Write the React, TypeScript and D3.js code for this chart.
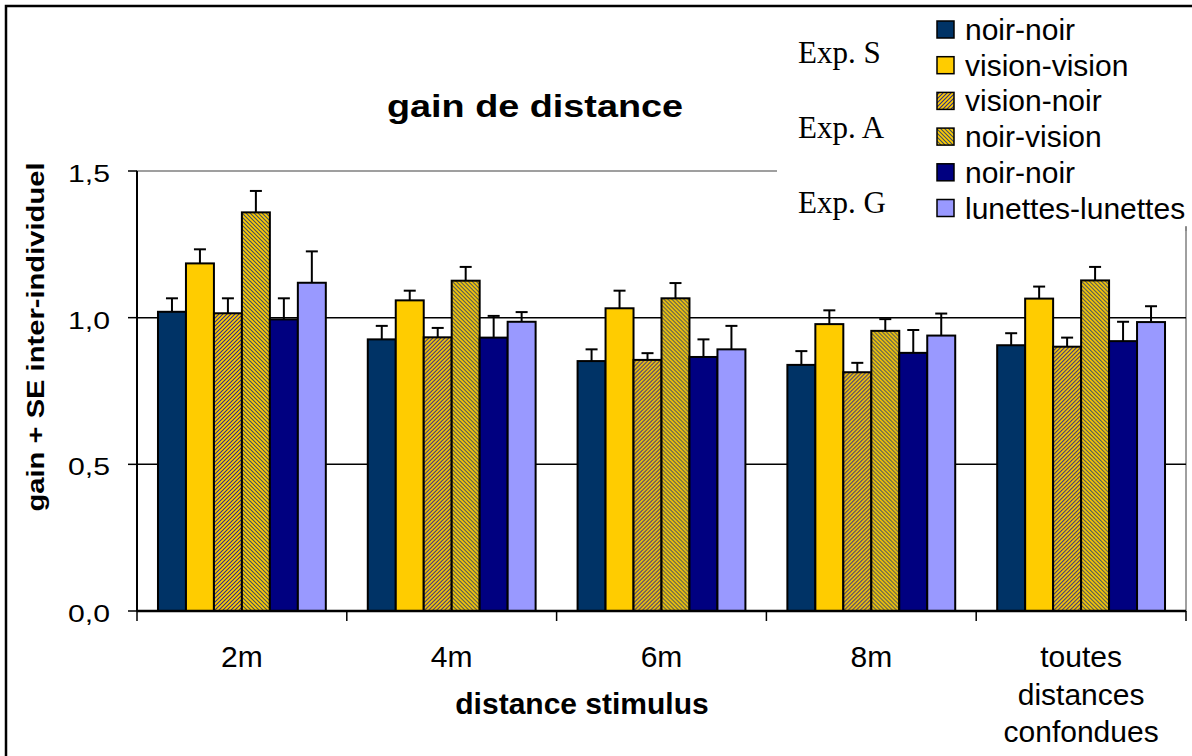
import React from "react";
import * as d3 from "d3";

// distances
const categories = ["2m", "4m", "6m", "8m", "toutes distances confondues"];

// series (legend order)
const seriesNames = [
  "noir-noir",
  "vision-vision",
  "vision-noir",
  "noir-vision",
  "noir-noir ",
  "lunettes-lunettes"
];
const seriesFills = [
  "#003366",
  "#FFCC00",
  "url(#hatchVN)",
  "url(#hatchNV)",
  "#000080",
  "#9999FF"
];

// mean gains
const noirNoirS = [1.02, 0.926, 0.852, 0.839, 0.906];
const visionVision = [1.185, 1.059, 1.032, 0.978, 1.065];
const visionNoir = [1.015, 0.933, 0.856, 0.814, 0.901];
const noirVision = [1.359, 1.126, 1.066, 0.955, 1.127];
const noirNoirG = [0.994, 0.932, 0.866, 0.88, 0.92];
const lunettes = [1.119, 0.986, 0.892, 0.939, 0.985];

// SE inter-individuel
const noirNoirSse = [0.046, 0.046, 0.04, 0.047, 0.041];
const visionVisionSe = [0.048, 0.033, 0.06, 0.047, 0.041];
const visionNoirSe = [0.051, 0.032, 0.023, 0.032, 0.031];
const noirVisionSe = [0.073, 0.047, 0.052, 0.04, 0.046];
const noirNoirGse = [0.072, 0.074, 0.06, 0.078, 0.066];
const lunettesSe = [0.107, 0.033, 0.08, 0.075, 0.054];

const yTicks = [0, 0.5, 1.0, 1.5];
const yTickLabels = ["0,0", "0,5", "1,0", "1,5"];
const expLabels = ["Exp. S", "Exp. A", "Exp. G"];

const means = [noirNoirS, visionVision, visionNoir, noirVision, noirNoirG, lunettes];
const errs = [noirNoirSse, visionVisionSe, visionNoirSe, noirVisionSe, noirNoirGse, lunettesSe];

const W = 1192,
  H = 756;
const left = 137,
  right = 1186,
  top = 171,
  bottom = 611;

const arial = "Arial, 'Liberation Sans', sans-serif";

export default function App() {
  const x0 = d3.scaleBand().domain(categories).range([left, right]).padding(0);
  const bw = x0.bandwidth();
  const x1 = d3
    .scaleBand()
    .domain(seriesNames)
    .range([bw * 0.1, bw * 0.9])
    .padding(0);
  const y = d3.scaleLinear().domain([0, 1.5]).range([bottom, top]);

  return (
    <svg
      width={W}
      height={H}
      style={{ position: "absolute", left: 0, top: 0, background: "#fff" }}
    >
      <defs>
        <pattern id="hatchVN" width={4} height={4} patternUnits="userSpaceOnUse">
          <rect width={4} height={4} fill="#FFCC00" />
          <path d="M-1,1 l2,-2 M0,4 l4,-4 M3,5 l2,-2" stroke="#2a2a8c" strokeWidth={1.1} />
        </pattern>
        <pattern id="hatchNV" width={4} height={4} patternUnits="userSpaceOnUse">
          <rect width={4} height={4} fill="#FFCC00" />
          <path d="M-1,3 l2,2 M0,0 l4,4 M3,-1 l2,2" stroke="#3d4d66" strokeWidth={1.1} />
        </pattern>
      </defs>

      {/* outer frame */}
      <path d={`M6,${H + 2} V6 H${W + 2}`} fill="none" stroke="#000" strokeWidth={2.5} />

      {/* plot area border */}
      <rect
        x={left}
        y={top}
        width={right - left}
        height={bottom - top}
        fill="none"
        stroke="#808080"
        strokeWidth={1.5}
      />
      {yTicks
        .filter(t => t > 0 && t < 1.5)
        .map(t => (
          <line key={t} x1={left} x2={right} y1={y(t)} y2={y(t)} stroke="#000" strokeWidth={1.5} />
        ))}

      {/* bars */}
      {categories.map((c, ci) => (
        <g key={c} transform={`translate(${x0(c)},0)`}>
          {seriesNames.map((s, si) => {
            const v = means[si][ci];
            const e = errs[si][ci];
            const bx = x1(s) as number;
            const cx = bx + x1.bandwidth() / 2;
            return (
              <g key={s}>
                <line x1={cx} x2={cx} y1={y(v)} y2={y(v + e)} stroke="#000" strokeWidth={2} />
                <line x1={cx - 6} x2={cx + 6} y1={y(v + e)} y2={y(v + e)} stroke="#000" strokeWidth={2} />
                <rect
                  x={bx}
                  y={y(v)}
                  width={x1.bandwidth()}
                  height={bottom - y(v)}
                  fill={seriesFills[si]}
                  stroke="#000"
                  strokeWidth={2}
                />
              </g>
            );
          })}
        </g>
      ))}

      {/* axes */}
      <line x1={left} x2={left} y1={top} y2={bottom} stroke="#000" strokeWidth={2} />
      <line x1={left} x2={right} y1={bottom} y2={bottom} stroke="#000" strokeWidth={2.5} />
      {yTicks.map((t, i) => (
        <g key={t}>
          <line x1={left - 9} x2={left} y1={y(t)} y2={y(t)} stroke="#000" strokeWidth={1.5} />
          <text
            x={110}
            y={y(t) + 11}
            textAnchor="end"
            fontFamily={arial}
            fontSize={24}
            textLength={42}
            lengthAdjust="spacingAndGlyphs"
          >
            {yTickLabels[i]}
          </text>
        </g>
      ))}
      {categories.map(c => (
        <line
          key={c}
          x1={x0(c) as number}
          x2={x0(c) as number}
          y1={bottom}
          y2={bottom + 10}
          stroke="#000"
          strokeWidth={1.5}
        />
      ))}
      <line x1={right} x2={right} y1={bottom} y2={bottom + 10} stroke="#000" strokeWidth={1.5} />

      {categories.map(c => {
        const cx = (x0(c) as number) + bw / 2;
        const lines = c === "toutes distances confondues" ? ["toutes", "distances", "confondues"] : [c];
        return (
          <text key={c} x={cx} y={667} textAnchor="middle" fontFamily={arial} fontSize={30}>
            {lines.map((l, li) => (
              <tspan key={li} x={cx} dy={li === 0 ? 0 : 37.5}>
                {l}
              </tspan>
            ))}
          </text>
        );
      })}

      <text
        x={582}
        y={714}
        textAnchor="middle"
        fontFamily={arial}
        fontSize={30}
        fontWeight="bold"
      >
        distance stimulus
      </text>

      <text
        transform="translate(44,337) rotate(-90)"
        textAnchor="middle"
        fontFamily={arial}
        fontSize={24}
        fontWeight="bold"
        textLength={349}
        lengthAdjust="spacingAndGlyphs"
      >
        gain + SE inter-individuel
      </text>

      <text
        x={535}
        y={117}
        textAnchor="middle"
        fontFamily={arial}
        fontSize={31}
        fontWeight="bold"
        textLength={296}
        lengthAdjust="spacingAndGlyphs"
      >
        gain de distance
      </text>

      {/* legend */}
      <rect x={777} y={9} width={right - 777 + 1} height={218} fill="#fff" />
      <line x1={right} x2={right} y1={226} y2={top + 60} stroke="#808080" strokeWidth={1.5} />
      {seriesNames.map((s, i) => {
        const cy = 29.5 + i * 35.7;
        return (
          <g key={s}>
            <rect x={937} y={cy - 8.5} width={17} height={17} fill={seriesFills[i]} stroke="#000" strokeWidth={1.5} />
            <text x={965} y={cy + 10.5} fontFamily={arial} fontSize={30}>
              {s.trim()}
            </text>
          </g>
        );
      })}
      {expLabels.map((e, i) => (
        <text key={e} x={798} y={63 + i * 75} fontFamily="'Times New Roman', 'Liberation Serif', serif" fontSize={31}>
          {e}
        </text>
      ))}
    </svg>
  );
}
